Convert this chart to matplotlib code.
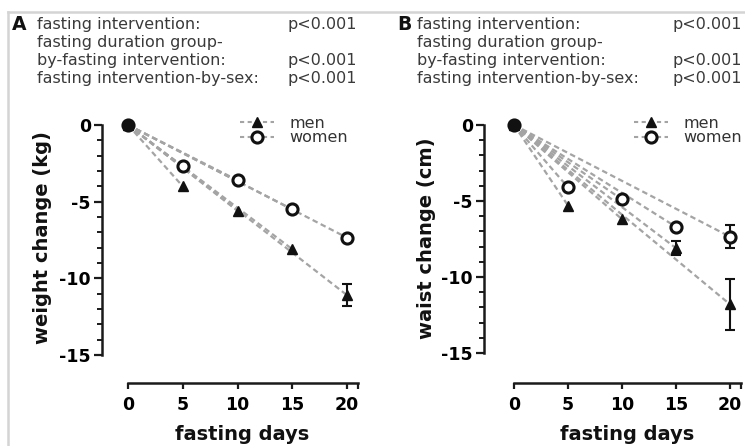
import matplotlib
matplotlib.use("Agg")
import matplotlib.pyplot as plt
from matplotlib.lines import Line2D
from matplotlib.ticker import FixedLocator

plt.rcParams['font.family'] = ['DejaVu Sans']
plt.rcParams['lines.scale_dashes'] = False

# ---------------- data ----------------
days = [0, 5, 10, 15, 20]
weight_men = [0, -4.0, -5.6, -8.1, -11.1]
weight_men_se = [0, 0.1, 0.1, 0.15, 0.7]
weight_women = [0, -2.7, -3.6, -5.5, -7.35]
weight_women_se = [0, 0.1, 0.1, 0.15, 0.2]
waist_men = [0, -5.3, -6.2, -8.1, -11.8]
waist_men_se = [0, 0.15, 0.2, 0.45, 1.7]
waist_women = [0, -4.1, -4.9, -6.7, -7.35]
waist_women_se = [0, 0.15, 0.2, 0.25, 0.75]

header_left = ["fasting intervention:", "fasting duration group-",
               "by-fasting intervention:", "fasting intervention-by-sex:"]
header_right = ["p<0.001", "", "p<0.001", "p<0.001"]
panel_letters = ["A", "B"]
ylabels = ["weight change (kg)", "waist change (cm)"]
xlabel = "fasting days"
series_labels = ["men", "women"]
yticks = [0, -5, -10, -15]
xticks = [0, 5, 10, 15, 20]

W, H = 745, 446
fig = plt.figure(figsize=(W / 100, H / 100), dpi=100)


def fx(px):
    return px / W


def fy(py):
    return 1 - py / H


def make_axes(left, right, top, bottom, xlim, ylim):
    ax = fig.add_axes([fx(left), fy(bottom), fx(right - left), (bottom - top) / H])
    ax.set_xlim(*xlim)
    ax.set_ylim(*ylim)
    ax.patch.set_alpha(0)
    for s in ['top', 'right']:
        ax.spines[s].set_visible(False)
    for s in ['left', 'bottom']:
        ax.spines[s].set_linewidth(1.8)
        ax.spines[s].set_color('#1a1a1a')
    ax.spines['left'].set_bounds(-15, 0)
    ax.spines['bottom'].set_bounds(0, 21)
    ax.yaxis.set_major_locator(FixedLocator(yticks))
    ax.yaxis.set_minor_locator(FixedLocator([v for v in range(-15, 1)]))
    ax.xaxis.set_major_locator(FixedLocator(xticks))
    ax.xaxis.set_minor_locator(FixedLocator([21]))
    ax.tick_params(axis='y', which='major', length=6, width=1.6, pad=2,
                   labelsize=12.5, color='#1a1a1a')
    ax.tick_params(axis='y', which='minor', length=3.5, width=1.4, color='#1a1a1a')
    ax.tick_params(axis='x', which='major', length=4, width=1.6, pad=5,
                   labelsize=12.5, color='#1a1a1a')
    ax.tick_params(axis='x', which='minor', length=4, width=1.6, color='#1a1a1a')
    ax.set_yticklabels([str(v) for v in yticks], fontweight='bold')
    ax.set_xticklabels([str(v) for v in xticks], fontweight='bold')
    return ax


def draw(ax, men, men_se, women, women_se):
    # dashed guide lines from origin to each point
    for ys in (men, women):
        for x, y in zip(days[1:], ys[1:]):
            ax.plot([days[0], x], [ys[0], y], color='#a4a4a4', lw=1.6,
                    dashes=(4, 2.5), zorder=1)
    # error bars only where they extend beyond the marker
    for ys, se in ((men, men_se), (women, women_se)):
        sel = [i for i, s in enumerate(se) if s >= 0.3]
        if sel:
            ax.errorbar([days[i] for i in sel], [ys[i] for i in sel],
                        yerr=[se[i] for i in sel], fmt='none', ecolor='#111111',
                        elinewidth=1.5, capsize=3.5, capthick=1.5, zorder=3)
    ax.plot(days, men, linestyle='none', marker='^', ms=7, color='#111111',
            zorder=4)
    ax.plot(days, women, linestyle='none', marker='o', ms=8, mfc='white',
            mec='#111111', mew=2.2, zorder=5)
    # origin shown as a solid dot (both series overlap there)
    ax.plot(days[:1], women[:1], linestyle='none', marker='o', ms=8,
            color='#111111', zorder=6)


axA = make_axes(102, 360, 115, 383, (-26 / 10.95, 232 / 10.95),
                ((383 - 125) / -15.33, 10 / 15.33))
axB = make_axes(484, 744, 115, 383, (-30 / 10.8, 230 / 10.8),
                ((383 - 125) / -15.2, 10 / 15.2))
draw(axA, weight_men, weight_men_se, weight_women, weight_women_se)
draw(axB, waist_men, waist_men_se, waist_women, waist_women_se)

# axis labels
for lab, xc, xlc in [(ylabels[0], 43, 242), (ylabels[1], 427, 627)]:
    fig.text(fx(xc), fy(238), lab, rotation=90, ha='center', va='center',
             fontsize=14, fontweight='bold', color='#111111')
    fig.text(fx(xlc), fy(434), xlabel, ha='center', va='center',
             fontsize=14, fontweight='bold', color='#111111')

# legends
leg_handles = [Line2D([], [], color='#a4a4a4', lw=1.5, dashes=(3, 2.5),
                      marker='^', ms=7, mfc='#111111', mec='#111111'),
               Line2D([], [], color='#a4a4a4', lw=1.5, dashes=(3, 2.5),
                      marker='o', ms=8, mfc='white', mec='#111111', mew=2.2)]
for ax, lx in [(axA, 240), (axB, 634)]:
    leg = ax.legend(leg_handles, series_labels, loc='upper left',
                    bbox_to_anchor=(fx(lx), fy(116)), bbox_transform=fig.transFigure,
                    frameon=False, fontsize=11.5, handlelength=2.1,
                    handletextpad=1.0, labelspacing=-0.05, borderpad=0,
                    borderaxespad=0)
    for t in leg.get_texts():
        t.set_color('#333333')

# headers
line_y = [25, 43, 61, 79]
for letter, lx, tx, px in [(panel_letters[0], 12, 37, 357),
                           (panel_letters[1], 397, 417, 742)]:
    fig.text(fx(lx), fy(25), letter, ha='left', va='center', fontsize=13.5,
             fontweight='bold', color='#111111')
    for y, tl, tr in zip(line_y, header_left, header_right):
        fig.text(fx(tx), fy(y), tl, ha='left', va='center', fontsize=11.5,
                 color='#3a3a3a')
        if tr:
            fig.text(fx(px), fy(y), tr, ha='right', va='center', fontsize=11.5,
                     color='#3a3a3a')

# light frame lines
fig.add_artist(Line2D([fx(8), fx(745)], [fy(12), fy(12)], color='#d4d4d4', lw=1.8,
                      transform=fig.transFigure))
fig.add_artist(Line2D([fx(8), fx(8)], [fy(12), fy(446)], color='#d4d4d4', lw=1.8,
                      transform=fig.transFigure))

fig.savefig("out.png", dpi=100)
